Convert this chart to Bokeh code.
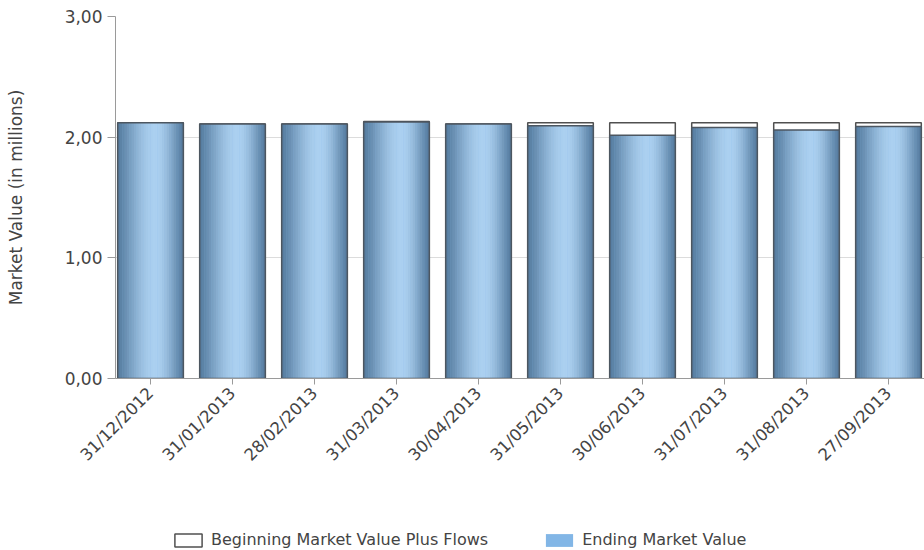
import math
from bokeh.plotting import figure
from bokeh.layouts import column
from bokeh.models import Range1d, FixedTicker, ColumnDataSource, Legend, LegendItem
from bokeh.transform import dodge
from bokeh.embed import file_html
from bokeh.resources import INLINE

# ---- data ----
dates = ["31/12/2012", "31/01/2013", "28/02/2013", "31/03/2013", "30/04/2013",
         "31/05/2013", "30/06/2013", "31/07/2013", "31/08/2013", "27/09/2013"]
beginning_plus_flows = [2.12, 2.11, 2.11, 2.13, 2.11, 2.12, 2.12, 2.12, 2.12, 2.12]
ending_value = [2.12, 2.11, 2.11, 2.125, 2.11, 2.094, 2.015, 2.08, 2.06, 2.088]
y_ticks = [0, 1, 2, 3]
y_tick_labels = ["0,00", "1,00", "2,00", "3,00"]
y_axis_title = "Market Value (in millions)"
legend_labels = ["Beginning Market Value Plus Flows", "Ending Market Value"]

x_idx = list(range(len(dates)))
source = ColumnDataSource(dict(x=x_idx, begin=beginning_plus_flows, end=ending_value))

FONT = "DejaVu Sans"
TXT = "#444444"
BAR_W = 0.8
BEGIN_STYLE = dict(fill_color="white", line_color="#505050", line_width=1.5)
END_SWATCH = dict(fill_color="#82b6e6", line_color=None)

MAIN_H = 478
p = figure(width=924, height=MAIN_H,
           x_range=Range1d(-0.427, 9.439), y_range=Range1d(0, 3),
           output_backend="svg", toolbar_location=None,
           min_border_left=115, min_border_right=0, min_border_top=16,
           min_border_bottom=MAIN_H - 378)
p.outline_line_color = None
p.background_fill_color = "white"
p.border_fill_color = "white"

# grid
p.xgrid.grid_line_color = None
p.ygrid.grid_line_color = "#dcdcdc"
p.ygrid.ticker = FixedTicker(ticks=y_ticks)

# y axis
p.yaxis.ticker = FixedTicker(ticks=y_ticks)
p.yaxis.major_label_overrides = {t: l for t, l in zip(y_ticks, y_tick_labels)}
p.yaxis.axis_line_color = "#9a9a9a"
p.yaxis.major_tick_line_color = "#9a9a9a"
p.yaxis.major_tick_out = 8
p.yaxis.major_tick_in = 0
p.yaxis.minor_tick_line_color = None
p.yaxis.major_label_standoff = 5
p.yaxis.major_label_text_font = FONT
p.yaxis.major_label_text_font_size = "17px"
p.yaxis.major_label_text_color = TXT
p.yaxis.axis_label = y_axis_title
p.yaxis.axis_label_text_font = FONT
p.yaxis.axis_label_text_font_size = "17px"
p.yaxis.axis_label_text_font_style = "normal"
p.yaxis.axis_label_text_color = TXT
p.yaxis.axis_label_standoff = 36

# x axis
p.xaxis.ticker = FixedTicker(ticks=x_idx)
p.xaxis.major_label_overrides = {i: d for i, d in zip(x_idx, dates)}
p.xaxis.major_label_orientation = math.pi / 4
p.xaxis.axis_line_color = "#9a9a9a"
p.xaxis.major_tick_line_color = "#9a9a9a"
p.xaxis.major_tick_out = 6
p.xaxis.major_tick_in = 0
p.xaxis.minor_tick_line_color = None
p.xaxis.major_label_standoff = 6
p.xaxis.major_label_text_font = FONT
p.xaxis.major_label_text_font_size = "16.5px"
p.xaxis.major_label_text_color = TXT

# beginning market value plus flows (outline bars)
p.vbar(x="x", top="begin", bottom=0, width=BAR_W, source=source, **BEGIN_STYLE)

# ending market value, base fill
p.vbar(x="x", top="end", bottom=0, width=BAR_W, source=source, **END_SWATCH)

# cylinder-like shading made of narrow slices
def mix(c1, c2, f):
    return "#%02x%02x%02x" % tuple(int(round(a + (b - a) * f)) for a, b in zip(c1, c2))

dark = (0x55, 0x7c, 0xa0)
light = (0xab, 0xd0, 0xf0)
N = 28
sw = BAR_W / N
peak = 0.58
for i in range(N):
    t = (i + 0.5) / N
    if t <= peak:
        f = math.sin(0.5 * math.pi * t / peak)
    else:
        f = math.sin(0.5 * math.pi * (1 - t) / (1 - peak))
    col = mix(dark, light, f ** 1.3)
    off = -BAR_W / 2 + (i + 0.5) * sw
    p.vbar(x=dodge("x", off, range=p.x_range), top="end", bottom=0, width=sw * 1.15,
           source=source, fill_color=col, line_color=None)

# ending outline
p.vbar(x="x", top="end", bottom=0, width=BAR_W, source=source,
       fill_color=None, line_color="#4c5660", line_width=1.5)

# ---- legend strip below the chart ----
LEG_H = 550 - MAIN_H
pl = figure(width=924, height=LEG_H, x_range=Range1d(100, 101), y_range=Range1d(-30, -29),
            output_backend="svg", toolbar_location=None,
            x_axis_location=None, y_axis_location=None,
            min_border=0)
pl.outline_line_color = None
pl.xgrid.grid_line_color = None
pl.ygrid.grid_line_color = None
lr_begin = pl.vbar(x="x", top="begin", bottom=0, width=0.1, source=source,
                   visible=False, **BEGIN_STYLE)
lr_end = pl.vbar(x="x", top="end", bottom=0, width=0.1, source=source,
                 visible=False, **END_SWATCH)

legend = Legend(items=[LegendItem(label=legend_labels[0], renderers=[lr_begin]),
                       LegendItem(label=legend_labels[1], renderers=[lr_end])],
                location=(56, 1), orientation="horizontal",
                glyph_width=34, glyph_height=16, label_standoff=6, spacing=54,
                padding=2, margin=0,
                label_text_font=FONT, label_text_font_size="16px",
                label_text_color=TXT, border_line_color=None,
                background_fill_alpha=0)
pl.add_layout(legend)

layout = column(p, pl, spacing=0)
open("out.html", "w").write(file_html(layout, INLINE))
